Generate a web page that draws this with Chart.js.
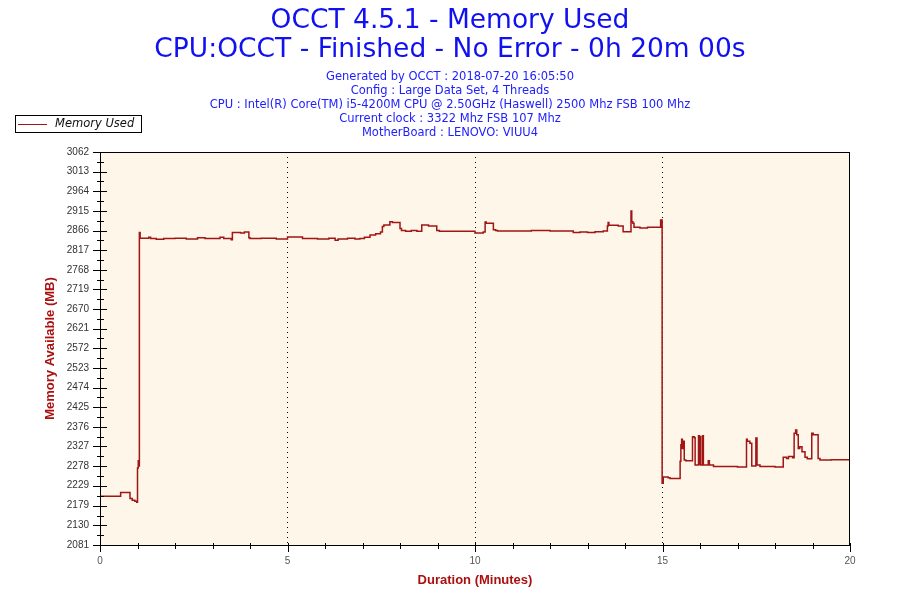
<!DOCTYPE html>
<html>
<head>
<meta charset="utf-8">
<title>OCCT 4.5.1 - Memory Used</title>
<script src="https://cdn.jsdelivr.net/npm/chart.js@4.4.1/dist/chart.umd.min.js"></script>
<style>
	html, body { margin: 0; padding: 0; background: #ffffff; }
	#chart { display: block; }
</style>
</head>
<body>
<canvas id="chart" width="900" height="600"></canvas>
<script>

// Samples (minutes, MB). Each point is where the line steps to a new value.
var timeMinutes = [
	0, 0.55, 0.80, 0.86, 0.93, 0.98, 1.00, 1.02, 1.03, 1.05, 1.07, 1.30, 1.35, 1.50, 1.70,
	2.00, 2.30, 2.60, 2.80, 3.20, 3.30, 3.50, 3.53, 3.75, 3.85, 3.97, 4.00, 4.30, 4.70,
	5.00, 5.40, 5.80, 6.10, 6.27, 6.35, 6.60, 6.80, 6.93, 7.05, 7.20, 7.35, 7.48, 7.53,
	7.57, 7.73, 7.80, 8.00, 8.04, 8.15, 8.30, 8.45, 8.58, 8.76, 8.98, 9.05,
	10.00, 10.22, 10.27, 10.30, 10.49, 10.55, 10.60, 11.50, 12.00, 12.62, 12.80, 13.00,
	13.20, 13.42, 13.53, 13.55, 13.57, 13.82, 13.95, 14.16, 14.18, 14.21, 14.24, 14.40,
	14.60, 14.95, 14.99, 15.02, 15.15, 15.20, 15.47, 15.49, 15.51, 15.53, 15.55, 15.58,
	15.62, 15.80, 15.85, 15.87, 15.96, 15.98, 16.00, 16.02, 16.07, 16.09, 16.22, 16.25,
	16.36, 17.00, 17.24, 17.26, 17.33, 17.38, 17.49, 17.52, 17.60, 18.00, 18.22, 18.31,
	18.36, 18.47, 18.51, 18.55, 18.58, 18.62, 18.66, 18.72, 18.80, 18.86, 18.98, 19.02,
	19.15, 19.20, 19.50, 20.00
];
var memoryUsedMB = [
	2203, 2212, 2197, 2193, 2190, 2188, 2273, 2291, 2278, 2861, 2847, 2849, 2846, 2844, 2846,
	2847, 2845, 2848, 2846, 2849, 2846, 2843, 2861, 2860, 2862, 2848, 2846, 2847, 2845,
	2850, 2846, 2845, 2847, 2842, 2845, 2847, 2845, 2846, 2849, 2855, 2858, 2862, 2876,
	2880, 2888, 2886, 2871, 2866, 2864, 2866, 2864, 2880, 2877, 2866, 2864,
	2860, 2862, 2887, 2884, 2868, 2866, 2865, 2866, 2865, 2861, 2862, 2861,
	2863, 2865, 2877, 2886, 2879, 2877, 2863, 2915, 2888, 2884, 2874, 2872,
	2874, 2892, 2235, 2251, 2249, 2247, 2290, 2331, 2345, 2322, 2340, 2293,
	2291, 2351, 2349, 2281, 2354, 2282, 2352, 2281, 2354, 2281, 2291, 2281,
	2277, 2276, 2345, 2340, 2335, 2278, 2348, 2281, 2277, 2276, 2300, 2297,
	2302, 2299, 2360, 2368, 2356, 2322, 2326, 2314, 2300, 2296, 2360, 2356,
	2297, 2293, 2294, 2292
];

var yTickLabels = [
	2081, 2130, 2179, 2229, 2278, 2327, 2376, 2425, 2474, 2523, 2572,
	2621, 2670, 2719, 2768, 2817, 2866, 2915, 2964, 3013, 3062
];
var xTickLabels = [0, 5, 10, 15, 20];
var xGridLines = [5, 10, 15];

var titleLines = [
	"OCCT 4.5.1 - Memory Used",
	"CPU:OCCT - Finished - No Error - 0h 20m 00s"
];
var subtitleLines = [
	"Generated by OCCT : 2018-07-20 16:05:50",
	"Config : Large Data Set, 4 Threads",
	"CPU : Intel(R) Core(TM) i5-4200M CPU @ 2.50GHz (Haswell) 2500 Mhz FSB 100 Mhz",
	"Current clock : 3322 Mhz FSB 107 Mhz",
	"MotherBoard : LENOVO: VIUU4"
];
var seriesLabel = "Memory Used";
var xAxisTitle = "Duration (Minutes)";
var yAxisTitle = "Memory Available (MB)";

var lineColour = "#a01515";
var plotBackground = "#fef6e8";
var titleColour = "#1010f0";
var subtitleColour = "#2020ff";
var axisTitleColour = "#aa1010";

/**
 * Draws backgrounds, frame, tick marks, titles and legend
 */
var chartDecorations = {
	id: "chartDecorations",

	beforeDraw: function (chart) {
		var ctx = chart.ctx;
		var area = chart.chartArea;

		ctx.save();
		ctx.fillStyle = "#ffffff";
		ctx.fillRect(0, 0, chart.width, chart.height);
		ctx.fillStyle = plotBackground;
		ctx.fillRect(area.left, area.top, area.right - area.left, area.bottom - area.top);
		ctx.restore();
	},

	afterDraw: function (chart) {
		var ctx = chart.ctx;
		var area = chart.chartArea;
		var xScale = chart.scales.x;
		var yScale = chart.scales.y;
		var i, px, major;

		ctx.save();

		// frame
		ctx.strokeStyle = "#000000";
		ctx.lineWidth = 1;
		ctx.strokeRect(area.left + 0.5, area.top + 0.5, area.right - area.left - 1, area.bottom - area.top);

		// tick marks crossing the axes
		ctx.beginPath();
		for (i = 0; i < yScale.ticks.length; i++) {
			px = Math.round(yScale.getPixelForValue(yScale.ticks[i].value)) + 0.5;
			major = yTickLabels.indexOf(yScale.ticks[i].value) > -1;
			ctx.moveTo(area.left - (major ? 7 : 3), px);
			ctx.lineTo(area.left + (major ? 7 : 4), px);
		}
		for (i = 0; i < xScale.ticks.length; i++) {
			px = Math.round(xScale.getPixelForValue(xScale.ticks[i].value)) + 0.5;
			major = xTickLabels.indexOf(xScale.ticks[i].value) > -1;
			ctx.moveTo(px, area.bottom - 2);
			ctx.lineTo(px, area.bottom + (major ? 7 : 4));
		}
		ctx.stroke();

		// titles
		ctx.textAlign = "center";
		ctx.textBaseline = "middle";
		ctx.fillStyle = titleColour;
		ctx.font = "26.5px 'DejaVu Sans', Verdana, sans-serif";
		ctx.fillText(titleLines[0], 450, 21);
		ctx.fillText(titleLines[1], 450, 50);

		ctx.fillStyle = subtitleColour;
		ctx.font = "11.5px 'DejaVu Sans', Verdana, sans-serif";
		for (i = 0; i < subtitleLines.length; i++) {
			ctx.fillText(subtitleLines[i], 450, 77 + i * 14);
		}

		// axis titles
		ctx.fillStyle = axisTitleColour;
		ctx.font = "bold 13px 'Liberation Sans', Arial, sans-serif";
		ctx.fillText(xAxisTitle, (area.left + area.right) / 2, 580);

		ctx.save();
		ctx.translate(50, (area.top + area.bottom) / 2);
		ctx.rotate(-Math.PI / 2);
		ctx.fillText(yAxisTitle, 0, 0);
		ctx.restore();

		// legend box
		ctx.strokeStyle = "#000000";
		ctx.strokeRect(15.5, 115.5, 126, 17);
		ctx.strokeStyle = lineColour;
		ctx.beginPath();
		ctx.moveTo(18, 124.5);
		ctx.lineTo(47, 124.5);
		ctx.stroke();
		ctx.fillStyle = "#111111";
		ctx.textAlign = "left";
		ctx.font = "italic 11.5px 'DejaVu Sans', Verdana, sans-serif";
		ctx.fillText(seriesLabel, 55, 124);

		ctx.restore();
	}
};

/**
 * Builds the y ticks: labelled values plus a minor tick half way between
 */
function buildYTicks(scale) {
	var ticks = [];

	for (var i = 0; i < yTickLabels.length; i++) {
		ticks.push({ value: yTickLabels[i] });
		if (i < yTickLabels.length - 1) {
			ticks.push({ value: (yTickLabels[i] + yTickLabels[i + 1]) / 2 });
		}
	}

	scale.ticks = ticks;
}

/**
 * Renders the memory chart
 */
function renderChart() {

	var points = timeMinutes.map(function (t, i) {
		return { x: t, y: memoryUsedMB[i] };
	});

	new Chart(document.getElementById("chart"), {
		type: "line",
		data: {
			datasets: [{
				label: seriesLabel,
				data: points,
				borderColor: lineColour,
				borderWidth: 1.5,
				pointRadius: 0,
				stepped: true,
				fill: false
			}]
		},
		options: {
			responsive: false,
			animation: false,
			devicePixelRatio: 1,
			layout: { padding: { top: 152, right: 50, left: 0, bottom: 0 } },
			plugins: {
				legend: { display: false },
				title: { display: false },
				tooltip: { enabled: false }
			},
			scales: {
				x: {
					type: "linear",
					min: 0,
					max: 20,
					afterFit: function (scale) { scale.height = 55; },
					ticks: {
						stepSize: 1,
						autoSkip: false,
						maxRotation: 0,
						padding: 10,
						color: "#555555",
						font: { family: "'Liberation Sans', Arial, sans-serif", size: 10 },
						callback: function (value) {
							return xTickLabels.indexOf(value) > -1 ? String(value) : "";
						}
					},
					grid: {
						drawTicks: false,
						lineWidth: 1,
						color: function (context) {
							return context.tick && xGridLines.indexOf(context.tick.value) > -1 ? "#000000" : "rgba(0,0,0,0)";
						}
					},
					border: { display: false, dash: [1, 4] }
				},
				y: {
					type: "linear",
					min: yTickLabels[0],
					max: yTickLabels[yTickLabels.length - 1],
					afterFit: function (scale) { scale.width = 100; },
					afterBuildTicks: buildYTicks,
					ticks: {
						autoSkip: false,
						padding: 11,
						color: "#333333",
						font: { family: "'Liberation Sans', Arial, sans-serif", size: 10 },
						callback: function (value) {
							return yTickLabels.indexOf(value) > -1 ? String(value) : "";
						}
					},
					grid: { display: false, drawTicks: false },
					border: { display: false }
				}
			}
		},
		plugins: [chartDecorations]
	});

}

renderChart();

</script>
</body>
</html>
